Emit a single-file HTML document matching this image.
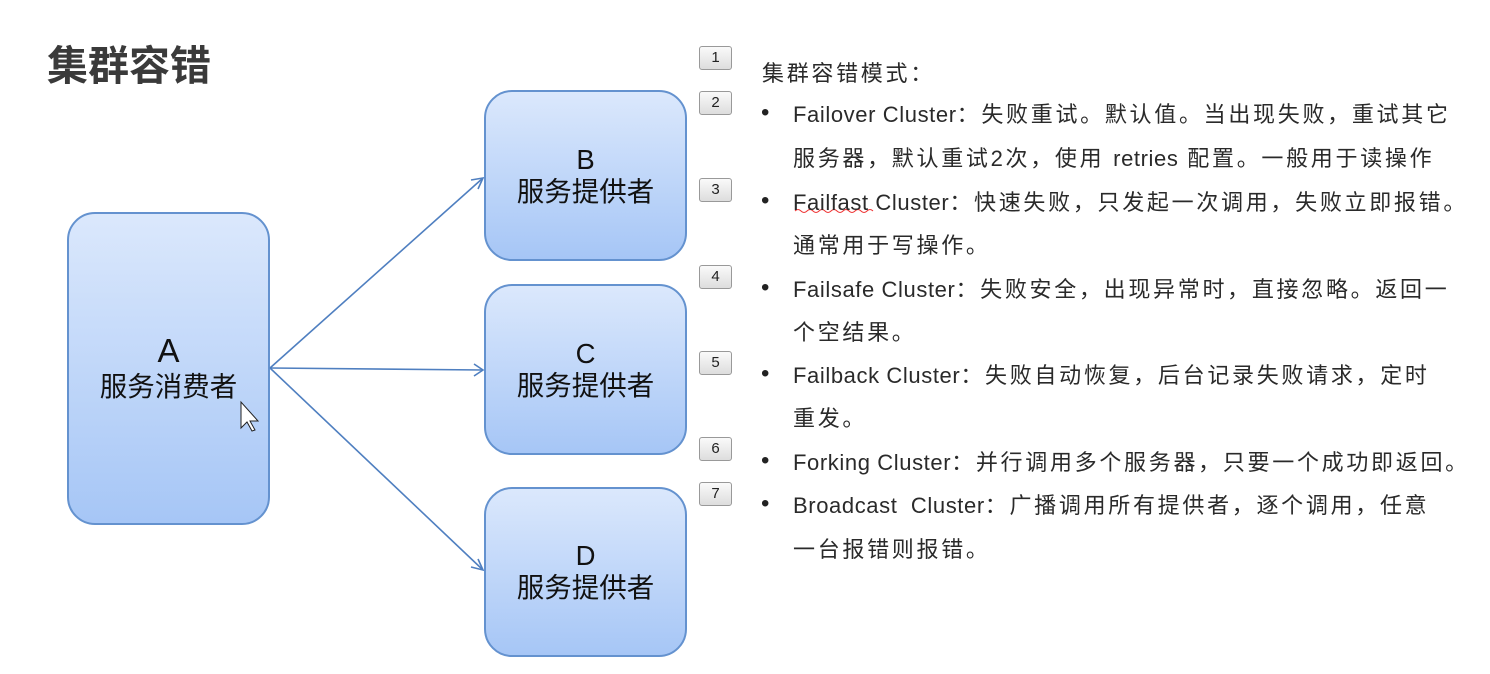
<!DOCTYPE html>
<html><head><meta charset="utf-8"><style>
body{margin:0;width:1490px;height:674px;background:#fff;position:relative;overflow:hidden;font-family:"Liberation Sans","Noto Sans CJK SC",sans-serif;}
.t{position:absolute;left:47px;top:32px;font-size:41px;font-weight:bold;color:#3a3a3a;}
.box{position:absolute;width:203px;border:2px solid #6492cf;border-radius:28px;background:linear-gradient(#dbe8fc,#a6c6f6);box-sizing:border-box;display:flex;flex-direction:column;align-items:center;justify-content:center;color:#111;font-size:27.5px;line-height:32px;}
.n{position:absolute;left:699px;width:31px;height:22px;border:1px solid #999;border-radius:3px;background:linear-gradient(#fafafa,#ddd);font-size:15px;text-align:center;line-height:22px;color:#222;}
.l{position:absolute;font-size:22px;letter-spacing:2.7px;color:#2a2a2a;white-space:nowrap;}
.l span{letter-spacing:0.6px}
.b{position:absolute;left:761px;font-size:24px;color:#222;}
</style></head><body>
<div class="t">集群容错</div>
<div class="box" style="left:67px;top:212px;height:313px;line-height:36px;"><div style="font-size:33px">A</div><div>服务消费者</div></div>
<div class="box" style="left:484px;top:90px;height:171px;"><div>B</div><div>服务提供者</div></div>
<div class="box" style="left:484px;top:284px;height:171px;"><div>C</div><div>服务提供者</div></div>
<div class="box" style="left:484px;top:487px;height:170px;"><div>D</div><div>服务提供者</div></div>
<svg style="position:absolute;left:0;top:0" width="1490" height="674">
<g stroke="#4f7fc0" stroke-width="1.6" fill="none">
<line x1="270" y1="368" x2="483" y2="178"/><polyline points="471,180 483,178 478,189"/>
<line x1="270" y1="368" x2="483" y2="370"/><polyline points="474,364 483,370 474,376"/>
<line x1="270" y1="368" x2="483" y2="570"/><polyline points="478,559 483,570 471,567"/>
</g>
<path d="M241 402 L241 428 L247 422 L252 431 L255 430 L250 421 L258 421 Z" fill="#fff" stroke="#222" stroke-width="1"/>
<path d="M795 211 q3 -3 6 0 t6 0 t6 0 t6 0 t6 0 t6 0 t6 0 t6 0 t6 0 t6 0 t6 0 t6 0 t6 0" stroke="#e33" stroke-width="1" fill="none"/>
</svg>
<div class="n" style="top:46px">1</div>
<div class="n" style="top:91px">2</div>
<div class="n" style="top:178px">3</div>
<div class="n" style="top:265px">4</div>
<div class="n" style="top:351px">5</div>
<div class="n" style="top:437px">6</div>
<div class="n" style="top:482px">7</div>
<div class="l" style="left:762px;top:56px">集群容错模式：</div>
<div class="b" style="top:99px">•</div><div class="l" style="left:793px;top:97px"><span>Failover Cluster</span>：失败重试。默认值。当出现失败，重试其它</div>
<div class="l" style="left:793px;top:141px">服务器，默认重试2次，使用 <span>retries</span> 配置。一般用于读操作</div>
<div class="b" style="top:187px">•</div><div class="l" style="left:793px;top:185px"><span>Failfast Cluster</span>：快速失败，只发起一次调用，失败立即报错。</div>
<div class="l" style="left:793px;top:228px">通常用于写操作。</div>
<div class="b" style="top:274px">•</div><div class="l" style="left:793px;top:272px"><span>Failsafe Cluster</span>：失败安全，出现异常时，直接忽略。返回一</div>
<div class="l" style="left:793px;top:315px">个空结果。</div>
<div class="b" style="top:360px">•</div><div class="l" style="left:793px;top:358px"><span>Failback Cluster</span>：失败自动恢复，后台记录失败请求，定时</div>
<div class="l" style="left:793px;top:401px">重发。</div>
<div class="b" style="top:447px">•</div><div class="l" style="left:793px;top:445px"><span>Forking Cluster</span>：并行调用多个服务器，只要一个成功即返回。</div>
<div class="b" style="top:490px">•</div><div class="l" style="left:793px;top:488px"><span>Broadcast&nbsp; Cluster</span>：广播调用所有提供者，逐个调用，任意</div>
<div class="l" style="left:793px;top:532px">一台报错则报错。</div>
</body></html>
